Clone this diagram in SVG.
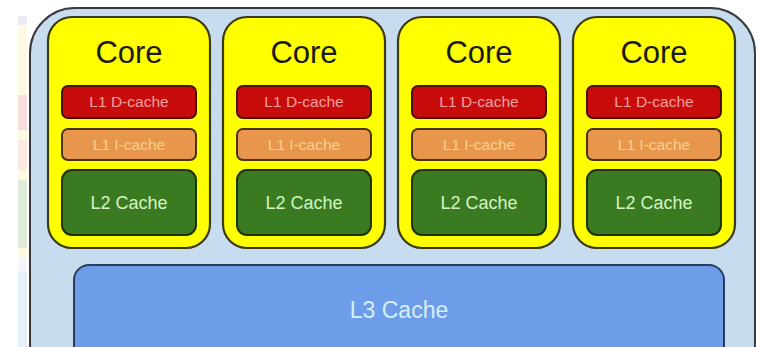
<svg xmlns="http://www.w3.org/2000/svg" width="760" height="347" viewBox="0 0 760 347">
<style>
.core rect.body{fill:#ffff00;stroke:#3a3a12;stroke-width:2.2}
.d{fill:#c80c0c;stroke:#4a1010;stroke-width:2}
.i{fill:#e8964c;stroke:#4a3218;stroke-width:2}
.l2{fill:#3a7a20;stroke:#1c3210;stroke-width:2}
text{font-family:"Liberation Sans",Arial,sans-serif;text-anchor:middle}
.ct{font-size:31px;fill:#1a1a1a}
.dt{font-size:15.5px;fill:#f4a0a0}
.it{font-size:15.5px;fill:#f8d090}
.l2t{font-size:18px;fill:#d4f4c4}
.l3t{font-size:23px;fill:#d6eefa}
</style>
<rect width="760" height="347" fill="#ffffff"/>
<g id="edge-stripes">
<rect x="18" y="16" width="9" height="9" fill="#e8ecf2"/>
<rect x="18" y="25" width="9" height="70" fill="#fdfae2"/>
<rect x="18" y="95" width="9" height="35" fill="#f8dcdc"/>
<rect x="18" y="130" width="9" height="10" fill="#fdfae2"/>
<rect x="18" y="140" width="9" height="30" fill="#fbe8de"/>
<rect x="18" y="170" width="9" height="10" fill="#fdfae2"/>
<rect x="18" y="180" width="9" height="68" fill="#e0ebdc"/>
<rect x="18" y="248" width="9" height="10" fill="#fdfae2"/>
<rect x="18" y="258" width="9" height="14" fill="#f4f6fa"/>
<rect x="18" y="272" width="9" height="75" fill="#e6eef8"/>
</g>
<g id="chip">
<rect x="30" y="8" width="725" height="380" rx="45" fill="#c8dcf0" stroke="#3a3a3a" stroke-width="2"/>
</g>
<g id="core1" class="core">
<rect class="body" x="48" y="17" width="162" height="231" rx="24"/>
<text class="ct" x="129" y="63">Core</text>
<rect class="d" x="62" y="86" width="134" height="32" rx="6"/>
<text class="dt" x="129" y="107">L1 D-cache</text>
<rect class="i" x="62" y="129" width="134" height="31" rx="6"/>
<text class="it" x="129" y="150">L1 I-cache</text>
<rect class="l2" x="62" y="170" width="134" height="65" rx="10"/>
<text class="l2t" x="129" y="209">L2 Cache</text>
</g>
<g id="core2" class="core">
<rect class="body" x="223" y="17" width="162" height="231" rx="24"/>
<text class="ct" x="304" y="63">Core</text>
<rect class="d" x="237" y="86" width="134" height="32" rx="6"/>
<text class="dt" x="304" y="107">L1 D-cache</text>
<rect class="i" x="237" y="129" width="134" height="31" rx="6"/>
<text class="it" x="304" y="150">L1 I-cache</text>
<rect class="l2" x="237" y="170" width="134" height="65" rx="10"/>
<text class="l2t" x="304" y="209">L2 Cache</text>
</g>
<g id="core3" class="core">
<rect class="body" x="398" y="17" width="162" height="231" rx="24"/>
<text class="ct" x="479" y="63">Core</text>
<rect class="d" x="412" y="86" width="134" height="32" rx="6"/>
<text class="dt" x="479" y="107">L1 D-cache</text>
<rect class="i" x="412" y="129" width="134" height="31" rx="6"/>
<text class="it" x="479" y="150">L1 I-cache</text>
<rect class="l2" x="412" y="170" width="134" height="65" rx="10"/>
<text class="l2t" x="479" y="209">L2 Cache</text>
</g>
<g id="core4" class="core">
<rect class="body" x="573" y="17" width="162" height="231" rx="24"/>
<text class="ct" x="654" y="63">Core</text>
<rect class="d" x="587" y="86" width="134" height="32" rx="6"/>
<text class="dt" x="654" y="107">L1 D-cache</text>
<rect class="i" x="587" y="129" width="134" height="31" rx="6"/>
<text class="it" x="654" y="150">L1 I-cache</text>
<rect class="l2" x="587" y="170" width="134" height="65" rx="10"/>
<text class="l2t" x="654" y="209">L2 Cache</text>
</g>
<g id="l3">
<rect x="74" y="265" width="650" height="120" rx="15" fill="#6d9de8" stroke="#2a3c5c" stroke-width="2"/>
<text class="l3t" x="399" y="318">L3 Cache</text>
</g>
<g id="connectors"/>
</svg>
